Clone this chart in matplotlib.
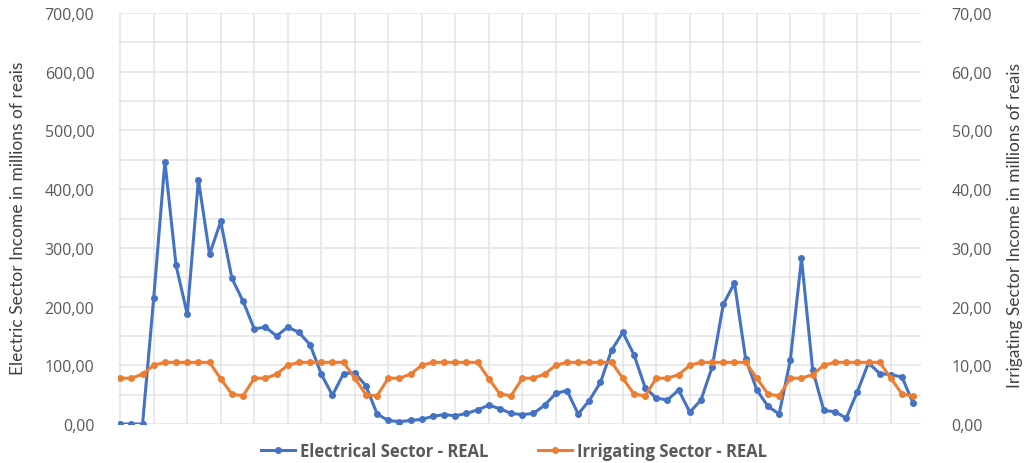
import numpy as np
import matplotlib
matplotlib.use('Agg')
import matplotlib.pyplot as plt
from matplotlib.ticker import FuncFormatter, MultipleLocator

# Monthly values (72 months)
electrical = [0, 0, 0, 215, 447, 270, 187, 416, 289, 345, 248, 209,
              162, 165, 150, 165, 156, 135, 85, 49, 86, 87, 65, 17,
              6, 4, 6, 8, 13, 16, 14, 18, 24, 32, 26, 18,
              16, 18, 32, 52, 57, 17, 40, 71, 126, 156, 118, 62,
              44, 41, 58, 20, 41, 97, 204, 240, 111, 58, 30, 17,
              109, 282, 92, 23, 21, 10, 55, 104, 86, 84, 80, 35]
irrigating = [7.8, 7.8, 8.5, 10.0, 10.5, 10.5, 10.5, 10.5, 10.5, 7.7, 5.1, 4.8,
              7.8, 7.8, 8.5, 10.0, 10.5, 10.5, 10.5, 10.5, 10.5, 7.8, 5.0, 4.8,
              7.8, 7.8, 8.5, 10.0, 10.5, 10.5, 10.5, 10.5, 10.5, 7.7, 5.1, 4.8,
              7.8, 7.8, 8.5, 10.0, 10.5, 10.5, 10.5, 10.5, 10.5, 7.8, 5.1, 4.8,
              7.8, 7.8, 8.4, 10.0, 10.5, 10.5, 10.5, 10.5, 10.5, 7.8, 5.1, 4.8,
              7.8, 7.8, 8.4, 10.0, 10.5, 10.5, 10.5, 10.5, 10.5, 7.8, 5.1, 4.8]

left_label = 'Electric Sector Income in millions of reais'
right_label = 'Irrigating Sector Income in millions of reais'
blue = '#4472C4'
orange = '#ED7D31'
text_grey = '#595959'
grid_grey = '#e6e6e6'

x = np.arange(len(electrical))

fig = plt.figure(figsize=(10.28, 4.64), dpi=100)
ax = fig.add_axes([118 / 1028, 1 - 425 / 464, (921 - 118) / 1028, (425 - 14) / 464])
ax2 = ax.twinx()

comma = FuncFormatter(lambda v, p: f'{v:.2f}'.replace('.', ','))

ax.set_ylim(0, 700)
ax.set_xlim(-0.2, 71.7)
ax.yaxis.set_major_locator(MultipleLocator(100))
ax.yaxis.set_minor_locator(MultipleLocator(50))
ax.xaxis.set_major_locator(MultipleLocator(3))
ax.yaxis.set_major_formatter(comma)
ax.grid(True, which='both', axis='y', color=grid_grey, lw=1.2)
ax.grid(True, which='major', axis='x', color=grid_grey, lw=1.2)
ax.set_axisbelow(True)
ax.tick_params(axis='x', length=0, labelbottom=False)
ax.tick_params(axis='y', which='both', length=0, labelsize=11.5, labelcolor=text_grey, pad=17)

ax2.set_ylim(0, 70)
ax2.yaxis.set_major_locator(MultipleLocator(10))
ax2.yaxis.set_major_formatter(comma)
ax2.tick_params(axis='y', length=0, labelsize=11.5, labelcolor=text_grey, pad=22)

for a in (ax, ax2):
    for s in a.spines.values():
        s.set_visible(False)

for lab in ax.get_yticklabels() + ax2.get_yticklabels():
    lab.set_family('Open Sans')

l1, = ax.plot(x, electrical, color=blue, lw=2.2, marker='o', ms=4, zorder=3,
              label='Electrical Sector - REAL')
l2, = ax2.plot(x, irrigating, color=orange, lw=2.2, marker='o', ms=4, zorder=3,
               label='Irrigating Sector - REAL')

lab_font = dict(family=['Lato', 'DejaVu Sans'], size=12.5, color='#404040')
fig.text(18 / 1028, 1 - 218 / 464, left_label, rotation=90, ha='center', va='center', **lab_font)
fig.text(1015 / 1028, 1 - 225 / 464, right_label, rotation=90, ha='center', va='center', **lab_font)

fig.legend(handles=[l1, l2], loc='center', bbox_to_anchor=(0.5, 1 - 452 / 464),
           ncol=2, frameon=False, handlelength=2.0, columnspacing=3,
           prop=dict(family='Open Sans', weight='bold', size=12), labelcolor=text_grey,
           handletextpad=0.3)

fig.savefig('out.png', dpi=100, facecolor='white')
